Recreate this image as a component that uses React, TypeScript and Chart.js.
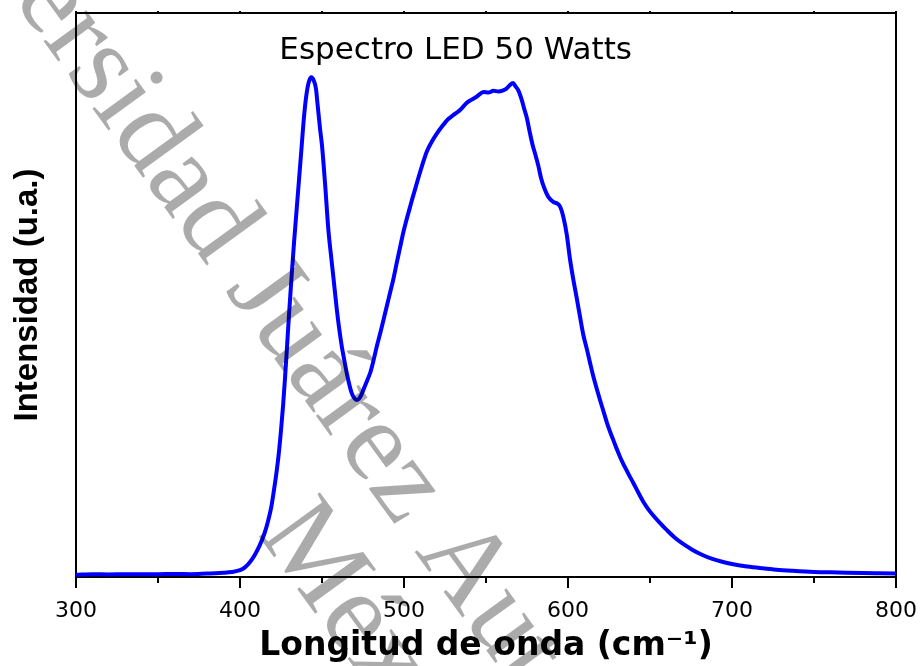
import React, { useEffect, useRef } from 'react';
import { Chart, registerables } from 'chart.js';

Chart.register(...registerables);

// ---- data ----
const wavelengths: number[] = [
  300, 310, 320, 330, 340, 350, 360, 370, 380, 385, 390, 395, 400, 403, 406, 409, 412, 415, 417, 419,
  420.5, 422, 423.5, 425, 426.3, 427.5, 428.7, 430, 431.5, 433, 434.5, 436, 437.5, 439, 440.5, 442,
  443.5, 445, 446.3, 447.3, 448.8, 450, 451.8, 453.9, 455.5, 457, 459, 460.5, 462, 463.5, 465, 466.5,
  468, 469.5, 471, 472.5, 474, 475.5, 477.5, 479.5, 481.5, 483.5, 486, 488.5, 491, 493.5, 495.5, 497.5,
  499.5, 501.5, 503.5, 505, 507, 509, 511.5, 514, 517, 520, 523.5, 527, 530, 532.5, 534.5, 538, 541,
  544.5, 548.5, 551.5, 554.5, 557.5, 560.5, 562.5, 564.5, 566.5, 568, 569.7, 571.8, 573.5, 574.8,
  576.8, 578.5, 580, 582, 583.5, 586, 588, 591, 593.5, 595.3, 597.2, 599.2, 601.2, 603.2, 605.3,
  607.3, 609.3, 611.5, 613.5, 615.5, 617.7, 619.7, 621.7, 623.8, 626, 628, 630, 632, 634.5, 637,
  639.6, 643, 646, 649, 652, 656, 660, 665, 670, 676, 682, 688, 694, 700, 708, 717, 727, 737, 750,
  765, 780, 790, 800,
];

const intensity: number[] = [
  0.4, 0.5, 0.45, 0.5, 0.5, 0.5, 0.55, 0.5, 0.6, 0.65, 0.75, 0.9, 1.2, 1.7, 2.6, 3.9, 5.6, 7.8, 9.8, 12.3,
  15, 18, 21.5, 26, 30.5, 35.5, 41, 47, 53.5, 59.5, 65, 70.5, 76, 81.5, 85.5, 87.8,
  88.6, 88, 86.6, 83.8, 79.5, 76.5, 70, 61.5, 57, 53, 47.5, 44, 41, 38.6, 36.3, 34.3,
  32.7, 31.8, 31.4, 31.6, 32.3, 33.4, 34.8, 36.3, 38.5, 41, 43.8, 46.8, 49.8, 52.8, 55.6, 58.3,
  61, 63.3, 65.4, 67, 69, 71, 73.4, 75.5, 77.2, 78.6, 80, 81.2, 81.9, 82.4, 82.9, 84, 84.6,
  85.2, 86, 85.9, 86.2, 86.1, 86.3, 86.6, 87.2, 87.6, 87, 86.3, 84.6, 82.8, 81.5,
  78.7, 76.5, 75, 72.8, 70.8, 68.6, 67.4, 66.5, 66.2, 65.6, 63.8, 60.8, 56.4, 52.8, 49.5,
  46.2, 43, 40.4, 37.9, 35.5, 33.2, 31.2, 29.3, 27.3, 25.5, 24, 22.5, 21.1, 19.6, 18.2,
  16.8, 14.9, 13.3, 12, 10.9, 9.6, 8.4, 7, 5.9, 4.8, 3.9, 3.2, 2.7, 2.3, 1.9, 1.6, 1.3, 1.1, 0.9,
  0.8, 0.7, 0.65, 0.6,
];

const majorTicks: number[] = [300, 400, 500, 600, 700, 800];
const minorTicks: number[] = [350, 450, 550, 650, 750];

const chartTitle = 'Espectro LED 50 Watts';
const xTitle = 'Longitud de onda (cm⁻¹)';
const yTitle = 'Intensidad (u.a.)';
const watermarkLine1 = 'Universidad Juárez Autónoma de Tabasco';
const watermarkLine2 = 'México';

const framePlugin = {
  id: 'frameAndTicks',
  beforeDatasetsDraw(chart: any) {
    const { ctx, chartArea } = chart;
    const xs = chart.scales.x;
    const { left, right, top, bottom } = chartArea;
    ctx.save();
    ctx.strokeStyle = '#000';
    ctx.lineWidth = 2;
    ctx.strokeRect(left, top, right - left, bottom - top);
    ctx.beginPath();
    majorTicks.forEach((v) => {
      const px = xs.getPixelForValue(v);
      ctx.moveTo(px, bottom);
      ctx.lineTo(px, bottom + 11);
      ctx.moveTo(px, top);
      ctx.lineTo(px, top - 2);
    });
    minorTicks.forEach((v) => {
      const px = xs.getPixelForValue(v);
      ctx.moveTo(px, bottom);
      ctx.lineTo(px, bottom + 6);
      ctx.moveTo(px, top);
      ctx.lineTo(px, top - 2);
    });
    ctx.stroke();
    ctx.restore();
  },
  afterDatasetsDraw(chart: any) {
    const { ctx, chartArea } = chart;
    ctx.save();
    ctx.fillStyle = '#000';
    ctx.font = '31px "DejaVu Sans"';
    ctx.textAlign = 'center';
    ctx.textBaseline = 'alphabetic';
    const cx = chartArea.left + (chartArea.right - chartArea.left) * 0.463;
    ctx.fillText(chartTitle, cx, chartArea.top + 46);
    ctx.restore();
  },
  afterDraw(chart: any) {
    const { ctx } = chart;
    const theta = (54 * Math.PI) / 180;
    ctx.save();
    ctx.fillStyle = 'rgba(0,0,0,0.33)';
    ctx.font = '115px "Liberation Serif"';
    ctx.textAlign = 'left';
    ctx.textBaseline = 'alphabetic';
    const wPrefix = ctx.measureText('Universidad Juáre').width;
    const wz = ctx.measureText('z').width;
    ctx.save();
    ctx.translate(382, 507);
    ctx.rotate(theta);
    ctx.fillText(watermarkLine1, -(wPrefix + wz / 2), 0);
    ctx.restore();
    const wM = ctx.measureText('M').width;
    ctx.save();
    ctx.translate(287, 575);
    ctx.rotate(theta);
    ctx.fillText(watermarkLine2, -wM / 2, 0);
    ctx.restore();
    ctx.restore();
  },
};

export default function App() {
  const canvasRef = useRef<HTMLCanvasElement | null>(null);

  useEffect(() => {
    if (!canvasRef.current) return;
    const chart = new Chart(canvasRef.current, {
      type: 'line',
      data: {
        datasets: [
          {
            data: wavelengths.map((x, i) => ({ x, y: intensity[i] })),
            borderColor: '#0000ff',
            borderWidth: 4,
            pointRadius: 0,
            fill: false,
            cubicInterpolationMode: 'monotone',
          },
        ],
      },
      options: {
        animation: false,
        responsive: true,
        maintainAspectRatio: false,
        layout: { padding: { left: 0, top: 13, right: 27, bottom: 0 } },
        plugins: { legend: { display: false }, tooltip: { enabled: false } },
        scales: {
          x: {
            type: 'linear',
            min: 300,
            max: 800,
            afterBuildTicks: (scale: any) => {
              scale.ticks = majorTicks.map((v) => ({ value: v }));
            },
            afterFit: (scale: any) => {
              scale.height = 89;
              scale.paddingLeft = 0;
              scale.paddingRight = 0;
            },
            grid: { display: false, drawTicks: false },
            border: { display: false },
            ticks: {
              padding: 21,
              color: '#000',
              maxRotation: 0,
              autoSkip: false,
              font: { family: 'DejaVu Sans', size: 22 },
            },
            title: {
              display: true,
              text: xTitle,
              color: '#000',
              font: { family: 'DejaVu Sans', size: 33, weight: 'bold' },
              padding: { top: 0, bottom: 0 },
            },
          },
          y: {
            min: 0,
            max: 100,
            afterFit: (scale: any) => {
              scale.width = 76;
              scale.paddingTop = 0;
              scale.paddingBottom = 0;
            },
            grid: { display: false, drawTicks: false },
            border: { display: false },
            ticks: { display: false },
            title: {
              display: true,
              text: yTitle,
              color: '#000',
              font: { family: 'Liberation Sans', size: 33, weight: 'bold' },
              padding: { top: 8, bottom: 0 },
            },
          },
        },
      },
      plugins: [framePlugin],
    } as any);
    return () => chart.destroy();
  }, []);

  return (
    <div style={{ position: 'fixed', left: 0, top: 0, width: 923, height: 666, background: '#fff' }}>
      <canvas ref={canvasRef} style={{ width: '100%', height: '100%' }} />
    </div>
  );
}
